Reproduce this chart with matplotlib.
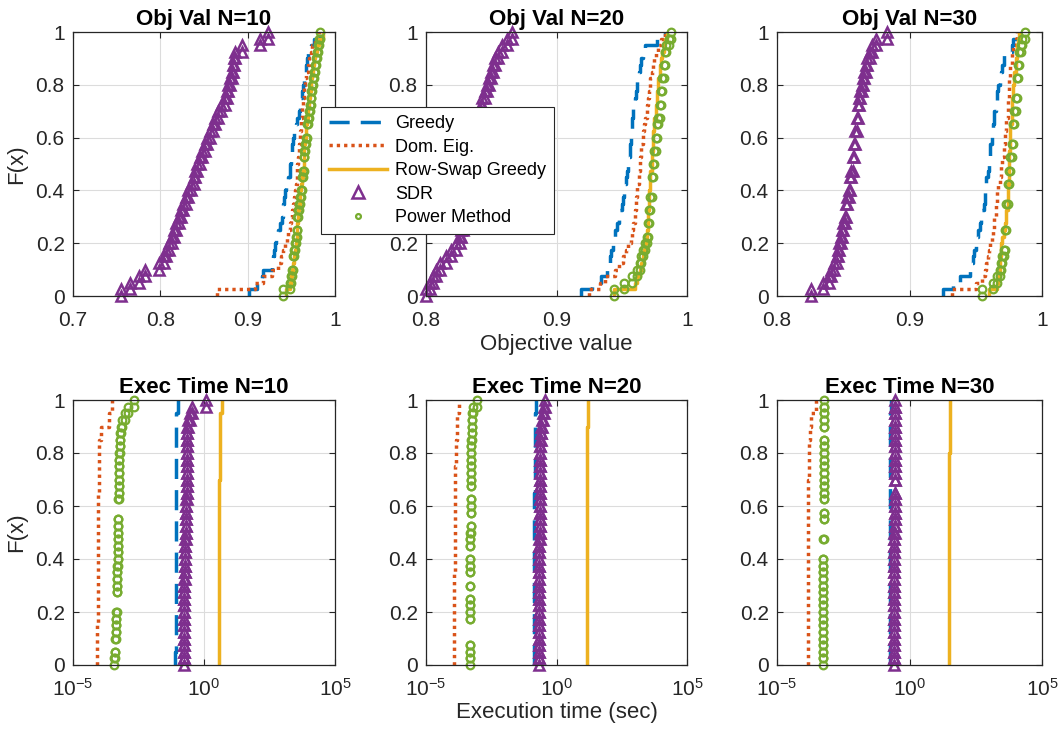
import numpy as np
import matplotlib.pyplot as plt
from matplotlib.lines import Line2D
from matplotlib.ticker import FormatStrFormatter, NullLocator

plt.rcParams['font.family'] = ['Liberation Sans', 'DejaVu Sans']
plt.rcParams['axes.unicode_minus'] = False
plt.rcParams['mathtext.fontset'] = 'custom'
plt.rcParams['mathtext.rm'] = 'Liberation Sans'
plt.rcParams['mathtext.it'] = 'Liberation Sans:italic'

# ==========================================
# Data (samples)
# ==========================================
methods = ["Greedy", "Dom. Eig.", "Row-Swap Greedy", "SDR", "Power Method"]
sizes = [10, 20, 30]

# --- objective value, N=10
greedy_obj10 = [0.902, 0.911, 0.916, 0.918, 0.928, 0.929, 0.930, 0.931, 0.933, 0.935,
                0.937, 0.939, 0.940, 0.941, 0.942, 0.943, 0.944, 0.946, 0.948, 0.949,
                0.950, 0.951, 0.951, 0.952, 0.953, 0.955, 0.957, 0.959, 0.960, 0.961,
                0.962, 0.963, 0.964, 0.965, 0.967, 0.968, 0.969, 0.972, 0.976, 0.983]
domeig_obj10 = [0.865, 0.908, 0.918, 0.928, 0.935, 0.938, 0.940, 0.943, 0.945, 0.946,
                0.948, 0.950, 0.951, 0.952, 0.953, 0.954, 0.955, 0.956, 0.957, 0.957,
                0.958, 0.959, 0.959, 0.960, 0.960, 0.961, 0.961, 0.962, 0.962, 0.963,
                0.964, 0.965, 0.966, 0.967, 0.969, 0.970, 0.972, 0.974, 0.977, 0.982]
rowswap_obj10 = [0.944, 0.948, 0.950, 0.951, 0.952, 0.953, 0.954, 0.955, 0.956, 0.956,
                 0.957, 0.958, 0.958, 0.959, 0.960, 0.960, 0.961, 0.962, 0.963, 0.964,
                 0.964, 0.965, 0.965, 0.966, 0.967, 0.967, 0.968, 0.969, 0.969, 0.970,
                 0.971, 0.972, 0.973, 0.974, 0.975, 0.976, 0.977, 0.979, 0.982, 0.986]
sdr_obj10 = [0.755, 0.765, 0.775, 0.783, 0.799, 0.804, 0.807, 0.810, 0.813, 0.816,
             0.818, 0.821, 0.824, 0.826, 0.829, 0.832, 0.835, 0.838, 0.840, 0.842,
             0.845, 0.848, 0.851, 0.854, 0.857, 0.860, 0.863, 0.866, 0.870, 0.874,
             0.876, 0.878, 0.880, 0.882, 0.883, 0.884, 0.886, 0.894, 0.914, 0.923]
power_obj10 = [0.940, 0.949, 0.950, 0.951, 0.952, 0.952, 0.953, 0.954, 0.955, 0.956,
               0.957, 0.957, 0.958, 0.959, 0.960, 0.961, 0.962, 0.962, 0.963, 0.964,
               0.964, 0.965, 0.966, 0.967, 0.968, 0.968, 0.969, 0.970, 0.971, 0.972,
               0.973, 0.974, 0.975, 0.976, 0.977, 0.978, 0.979, 0.980, 0.982, 0.983]

# --- objective value, N=20
greedy_obj20 = [0.919, 0.927, 0.934, 0.939, 0.940, 0.941, 0.942, 0.943, 0.944, 0.945,
                0.946, 0.948, 0.949, 0.950, 0.951, 0.952, 0.952, 0.953, 0.954, 0.955,
                0.955, 0.956, 0.956, 0.957, 0.957, 0.958, 0.958, 0.959, 0.959, 0.960,
                0.961, 0.962, 0.962, 0.963, 0.964, 0.965, 0.966, 0.968, 0.977, 0.983]
domeig_obj20 = [0.925, 0.933, 0.937, 0.945, 0.948, 0.951, 0.953, 0.955, 0.957, 0.958,
                0.959, 0.960, 0.960, 0.961, 0.961, 0.962, 0.962, 0.963, 0.963, 0.964,
                0.964, 0.965, 0.965, 0.966, 0.966, 0.967, 0.968, 0.969, 0.969, 0.970,
                0.971, 0.972, 0.972, 0.973, 0.974, 0.975, 0.976, 0.978, 0.980, 0.983]
rowswap_obj20 = [0.944, 0.960, 0.962, 0.964, 0.965, 0.966, 0.967, 0.968, 0.969, 0.969,
                 0.970, 0.970, 0.970, 0.971, 0.971, 0.971, 0.972, 0.972, 0.972, 0.973,
                 0.973, 0.973, 0.974, 0.974, 0.974, 0.975, 0.975, 0.976, 0.976, 0.977,
                 0.977, 0.978, 0.978, 0.979, 0.979, 0.980, 0.981, 0.982, 0.983, 0.985]
sdr_obj20 = [0.800, 0.803, 0.805, 0.808, 0.811, 0.815, 0.819, 0.823, 0.826, 0.827,
             0.828, 0.829, 0.830, 0.831, 0.832, 0.833, 0.833, 0.834, 0.835, 0.836,
             0.836, 0.837, 0.838, 0.838, 0.839, 0.839, 0.840, 0.841, 0.842, 0.843,
             0.845, 0.847, 0.848, 0.850, 0.851, 0.853, 0.855, 0.858, 0.862, 0.866]
power_obj20 = [0.944, 0.952, 0.958, 0.962, 0.964, 0.965, 0.966, 0.968, 0.969, 0.970,
               0.970, 0.971, 0.971, 0.972, 0.972, 0.973, 0.973, 0.973, 0.974, 0.974,
               0.975, 0.975, 0.976, 0.976, 0.977, 0.977, 0.978, 0.979, 0.979, 0.980,
               0.980, 0.981, 0.981, 0.982, 0.982, 0.983, 0.983, 0.984, 0.986, 0.988]

# --- objective value, N=30
greedy_obj30 = [0.925, 0.933, 0.938, 0.946, 0.947, 0.948, 0.949, 0.950, 0.951, 0.952,
                0.953, 0.954, 0.955, 0.956, 0.957, 0.957, 0.958, 0.958, 0.959, 0.960,
                0.960, 0.961, 0.961, 0.962, 0.962, 0.963, 0.964, 0.964, 0.965, 0.966,
                0.966, 0.967, 0.968, 0.969, 0.970, 0.971, 0.971, 0.977, 0.978, 0.981]
domeig_obj30 = [0.932, 0.950, 0.955, 0.957, 0.958, 0.959, 0.960, 0.961, 0.962, 0.963,
                0.964, 0.964, 0.965, 0.965, 0.966, 0.966, 0.967, 0.968, 0.969, 0.969,
                0.970, 0.971, 0.971, 0.972, 0.972, 0.973, 0.973, 0.974, 0.974, 0.974,
                0.975, 0.975, 0.975, 0.976, 0.976, 0.977, 0.977, 0.978, 0.980, 0.981]
rowswap_obj30 = [0.960, 0.966, 0.967, 0.968, 0.968, 0.968, 0.969, 0.969, 0.970, 0.971,
                 0.972, 0.973, 0.973, 0.974, 0.974, 0.974, 0.974, 0.975, 0.975, 0.975,
                 0.975, 0.975, 0.976, 0.976, 0.976, 0.976, 0.977, 0.977, 0.977, 0.977,
                 0.978, 0.978, 0.979, 0.979, 0.980, 0.980, 0.981, 0.981, 0.982, 0.983]
sdr_obj30 = [0.826, 0.835, 0.839, 0.841, 0.843, 0.845, 0.846, 0.847, 0.848, 0.849,
             0.850, 0.851, 0.852, 0.852, 0.853, 0.854, 0.855, 0.855, 0.856, 0.857,
             0.857, 0.858, 0.858, 0.859, 0.859, 0.860, 0.860, 0.861, 0.861, 0.862,
             0.863, 0.864, 0.865, 0.866, 0.867, 0.868, 0.870, 0.872, 0.875, 0.883]
power_obj30 = [0.955, 0.963, 0.966, 0.968, 0.969, 0.970, 0.971, 0.972, 0.972, 0.972,
               0.973, 0.973, 0.973, 0.973, 0.974, 0.974, 0.974, 0.975, 0.975, 0.976,
               0.976, 0.977, 0.977, 0.978, 0.978, 0.978, 0.979, 0.979, 0.980, 0.980,
               0.981, 0.981, 0.981, 0.982, 0.982, 0.983, 0.983, 0.984, 0.985, 0.987]

# --- execution time (sec), N=10
greedy_time10 = [0.0815, 0.0818, 0.0821, 0.0823, 0.0826, 0.0828, 0.0830, 0.0832, 0.0835, 0.0837,
                 0.0840, 0.0842, 0.0845, 0.0848, 0.0851, 0.0855, 0.0860, 0.0868, 0.0890, 0.0990]
domeig_time10 = [8.5e-5, 8.6e-5, 8.6e-5, 8.7e-5, 8.7e-5, 8.8e-5, 8.8e-5, 8.9e-5, 8.9e-5, 9.0e-5,
                 9.1e-5, 9.2e-5, 9.4e-5, 9.5e-5, 9.6e-5, 9.7e-5, 1.02e-4, 1.18e-4, 2.3e-4, 3.1e-4]
rowswap_time10 = [3.75, 3.77, 3.79, 3.80, 3.81, 3.82, 3.83, 3.84, 3.85, 3.86,
                  3.87, 3.88, 3.89, 3.90, 3.92, 3.94, 3.97, 4.02, 4.15, 4.70]
sdr_time10 = [0.168, 0.169, 0.170, 0.171, 0.172, 0.173, 0.174, 0.175, 0.176, 0.177,
              0.178, 0.179, 0.180, 0.181, 0.182, 0.183, 0.184, 0.186, 0.188, 0.208,
              0.210, 0.211, 0.212, 0.213, 0.214, 0.215, 0.216, 0.217, 0.218, 0.219,
              0.220, 0.222, 0.224, 0.226, 0.229, 0.233, 0.255, 0.290, 0.340, 1.15]
power_time10 = [3.80e-4, 3.98e-4, 4.17e-4, 4.17e-4, 4.27e-4, 4.37e-4, 4.47e-4, 4.57e-4, 4.68e-4, 4.68e-4,
                4.68e-4, 4.79e-4, 4.84e-4, 4.90e-4, 4.95e-4, 5.01e-4, 5.07e-4, 5.13e-4, 5.19e-4, 5.25e-4,
                5.31e-4, 5.37e-4, 5.43e-4, 5.43e-4, 5.43e-4, 5.50e-4, 5.56e-4, 5.62e-4, 5.69e-4, 5.75e-4,
                5.82e-4, 5.89e-4, 6.03e-4, 6.17e-4, 6.31e-4, 6.61e-4, 7.20e-4, 9.50e-4, 1.29e-3, 2.19e-3]

# --- execution time (sec), N=20
greedy_time20 = [0.137, 0.138, 0.138, 0.139, 0.139, 0.140, 0.140, 0.141, 0.141, 0.142,
                 0.142, 0.143, 0.143, 0.144, 0.144, 0.145, 0.146, 0.147, 0.150, 0.160]
domeig_time20 = [1.20e-4, 1.21e-4, 1.21e-4, 1.22e-4, 1.22e-4, 1.23e-4, 1.23e-4, 1.24e-4, 1.24e-4, 1.25e-4,
                 1.25e-4, 1.26e-4, 1.27e-4, 1.28e-4, 1.29e-4, 1.42e-4, 1.47e-4, 1.52e-4, 1.60e-4, 1.90e-4]
rowswap_time20 = [14.2, 14.3, 14.4, 14.5, 14.5, 14.6, 14.6, 14.7, 14.7, 14.8,
                  14.8, 14.9, 14.9, 15.0, 15.0, 15.1, 15.2, 15.3, 15.5, 15.8]
sdr_time20 = [0.205, 0.206, 0.207, 0.208, 0.209, 0.210, 0.211, 0.212, 0.213, 0.214,
              0.215, 0.216, 0.217, 0.218, 0.219, 0.220, 0.221, 0.222, 0.223, 0.224,
              0.225, 0.226, 0.227, 0.228, 0.229, 0.230, 0.231, 0.232, 0.233, 0.234,
              0.235, 0.237, 0.239, 0.242, 0.250, 0.265, 0.285, 0.305, 0.330, 0.360]
power_time20 = [4.80e-4, 4.82e-4, 4.84e-4, 4.86e-4, 4.86e-4, 4.86e-4, 4.86e-4, 4.88e-4, 4.90e-4, 4.92e-4,
                4.94e-4, 4.94e-4, 4.96e-4, 4.96e-4, 4.98e-4, 5.00e-4, 5.02e-4, 5.02e-4, 5.04e-4, 5.06e-4,
                5.08e-4, 5.10e-4, 5.10e-4, 5.12e-4, 5.14e-4, 5.16e-4, 5.16e-4, 5.20e-4, 5.25e-4, 5.30e-4,
                5.35e-4, 5.40e-4, 5.45e-4, 5.50e-4, 5.55e-4, 5.60e-4, 5.70e-4, 5.90e-4, 6.40e-4, 8.70e-4]

# --- execution time (sec), N=30
greedy_time30 = [0.178, 0.179, 0.180, 0.180, 0.181, 0.181, 0.182, 0.182, 0.183, 0.183,
                 0.184, 0.184, 0.185, 0.185, 0.186, 0.187, 0.188, 0.189, 0.191, 0.195]
domeig_time30 = [1.46e-4, 1.47e-4, 1.48e-4, 1.48e-4, 1.49e-4, 1.49e-4, 1.50e-4, 1.50e-4, 1.51e-4, 1.51e-4,
                 1.52e-4, 1.52e-4, 1.53e-4, 1.54e-4, 1.55e-4, 1.56e-4, 1.58e-4, 1.70e-4, 1.90e-4, 2.90e-4]
rowswap_time30 = [30.5, 30.7, 30.9, 31.0, 31.1, 31.2, 31.3, 31.4, 31.5, 31.6,
                  31.7, 31.8, 31.9, 32.0, 32.1, 32.2, 32.4, 32.6, 32.9, 33.5]
sdr_time30 = [0.252, 0.253, 0.254, 0.255, 0.256, 0.257, 0.258, 0.259, 0.260, 0.261,
              0.262, 0.263, 0.264, 0.265, 0.266, 0.267, 0.268, 0.269, 0.270, 0.271,
              0.272, 0.273, 0.274, 0.275, 0.276, 0.277, 0.279, 0.279, 0.280, 0.281,
              0.282, 0.283, 0.284, 0.285, 0.286, 0.287, 0.288, 0.290, 0.292, 0.295]
power_time30 = [5.50e-4, 5.51e-4, 5.52e-4, 5.53e-4, 5.54e-4, 5.55e-4, 5.56e-4, 5.57e-4, 5.58e-4, 5.59e-4,
                5.60e-4, 5.61e-4, 5.62e-4, 5.63e-4, 5.64e-4, 5.65e-4, 5.67e-4, 5.67e-4, 5.67e-4, 5.69e-4,
                5.69e-4, 5.69e-4, 5.71e-4, 5.73e-4, 5.73e-4, 5.75e-4, 5.77e-4, 5.78e-4, 5.79e-4, 5.80e-4,
                5.81e-4, 5.82e-4, 5.83e-4, 5.84e-4, 5.86e-4, 5.86e-4, 5.88e-4, 5.90e-4, 5.92e-4, 6.00e-4]

obj_sets = [
    [greedy_obj10, domeig_obj10, rowswap_obj10, sdr_obj10, power_obj10],
    [greedy_obj20, domeig_obj20, rowswap_obj20, sdr_obj20, power_obj20],
    [greedy_obj30, domeig_obj30, rowswap_obj30, sdr_obj30, power_obj30],
]
time_sets = [
    [greedy_time10, domeig_time10, rowswap_time10, sdr_time10, power_time10],
    [greedy_time20, domeig_time20, rowswap_time20, sdr_time20, power_time20],
    [greedy_time30, domeig_time30, rowswap_time30, sdr_time30, power_time30],
]

# ==========================================
# Styles (MATLAB default colours)
# ==========================================
styles = [
    dict(color='#0072BD', ls=(0, (5.8, 3.2)), lw=2.5),
    dict(color='#D95319', ls=(0, (0.95, 1.15)), lw=2.5),
    dict(color='#EDB120', ls='-', lw=2.5),
    dict(color='#7E2F8E', ls='none', marker='^', ms=7.5, mfc='none', mew=1.8),
    dict(color='#77AC30', ls='none', marker='o', ms=5.5, mfc='none', mew=1.6),
]


def cdf_stairs(samples):
    # empirical CDF as stair vertices (x1,0),(x1,F1),(x2,F1),...
    x = np.sort(np.asarray(samples, dtype=float))
    ux, counts = np.unique(x, return_counts=True)
    F = np.cumsum(counts) / len(x)
    Fprev = np.concatenate([[0.0], F[:-1]])
    return np.repeat(ux, 2), np.column_stack([Fprev, F]).ravel()


def style_axes(ax):
    ax.set_ylim(0, 1)
    ax.set_yticks([0, 0.2, 0.4, 0.6, 0.8, 1.0])
    ax.yaxis.set_major_formatter(FormatStrFormatter('%g'))
    ax.grid(True, color='#dcdcdc', lw=0.8)
    ax.set_axisbelow(True)
    ax.tick_params(direction='in', top=True, right=True, length=4, width=0.8,
                   colors='#262626', labelsize=15, pad=6)
    ax.tick_params(axis='x', pad=11)
    for sp in ax.spines.values():
        sp.set_color('#262626')
        sp.set_linewidth(0.9)


# ==========================================
# Figure
# ==========================================
W, H = 1061, 742
fig = plt.figure(figsize=(W / 100, H / 100), dpi=100)

cols = [(73, 335), (426, 687), (777, 1042)]
rows = [(32, 296), (400, 665)]


def add_ax(c, r):
    x0, x1 = cols[c]
    y0, y1 = rows[r]
    return fig.add_axes([x0 / W, 1 - y1 / H, (x1 - x0) / W, (y1 - y0) / H])


obj_xlims = [(0.7, 1.0), (0.8, 1.0), (0.8, 1.0)]
obj_xticks = [[0.7, 0.8, 0.9, 1.0], [0.8, 0.9, 1.0], [0.8, 0.9, 1.0]]

for c, n in enumerate(sizes):
    # objective value
    ax = add_ax(c, 0)
    for data, st in zip(obj_sets[c], styles):
        xs, ys = cdf_stairs(data)
        ax.plot(xs, ys, clip_on=(st['ls'] != 'none'), **st)
    ax.set_xlim(*obj_xlims[c])
    ax.set_xticks(obj_xticks[c])
    ax.xaxis.set_major_formatter(FormatStrFormatter('%g'))
    style_axes(ax)
    ax.set_title(f"Obj Val N={n}", fontsize=16, fontweight='bold', pad=5)
    if c == 0:
        ax.set_ylabel("F(x)", fontsize=16, color='#262626', labelpad=6)
    if c == 1:
        ax.set_xlabel("Objective value", fontsize=16, color='#262626', labelpad=3)

    # execution time
    ax = add_ax(c, 1)
    for data, st in zip(time_sets[c], styles):
        xs, ys = cdf_stairs(data)
        ax.plot(xs, ys, clip_on=(st['ls'] != 'none'), **st)
    ax.set_xscale('log')
    ax.set_xlim(1e-5, 1e5)
    ax.set_xticks([1e-5, 1e0, 1e5])
    ax.set_xticklabels([r'$\mathregular{10^{-5}}$', r'$\mathregular{10^{0}}$',
                        r'$\mathregular{10^{5}}$'])
    ax.xaxis.set_minor_locator(NullLocator())
    style_axes(ax)
    ax.tick_params(axis='x', pad=9)
    ax.set_title(f"Exec Time N={n}", fontsize=16, fontweight='bold', pad=5)
    if c == 0:
        ax.set_ylabel("F(x)", fontsize=16, color='#262626', labelpad=6)
    if c == 1:
        ax.set_xlabel("Execution time (sec)", fontsize=16, color='#262626', labelpad=2)

# legend on top of the first two axes
handles = []
for i, st in enumerate(styles):
    st = dict(st)
    if i == 3:
        st['ms'] = 8.5
    if i == 4:
        st['ms'] = 3.5
    handles.append(Line2D([], [], **st))
leg = fig.legend(handles, methods, loc='upper left',
                 bbox_to_anchor=(321 / W, 1 - 107 / H), bbox_transform=fig.transFigure,
                 borderaxespad=0, fontsize=13, handlelength=3.2, handletextpad=0.45,
                 labelspacing=0.36, borderpad=0.45, fancybox=False, framealpha=1,
                 edgecolor='#262626')
leg.get_frame().set_linewidth(0.8)

fig.savefig("out.png", dpi=100)
